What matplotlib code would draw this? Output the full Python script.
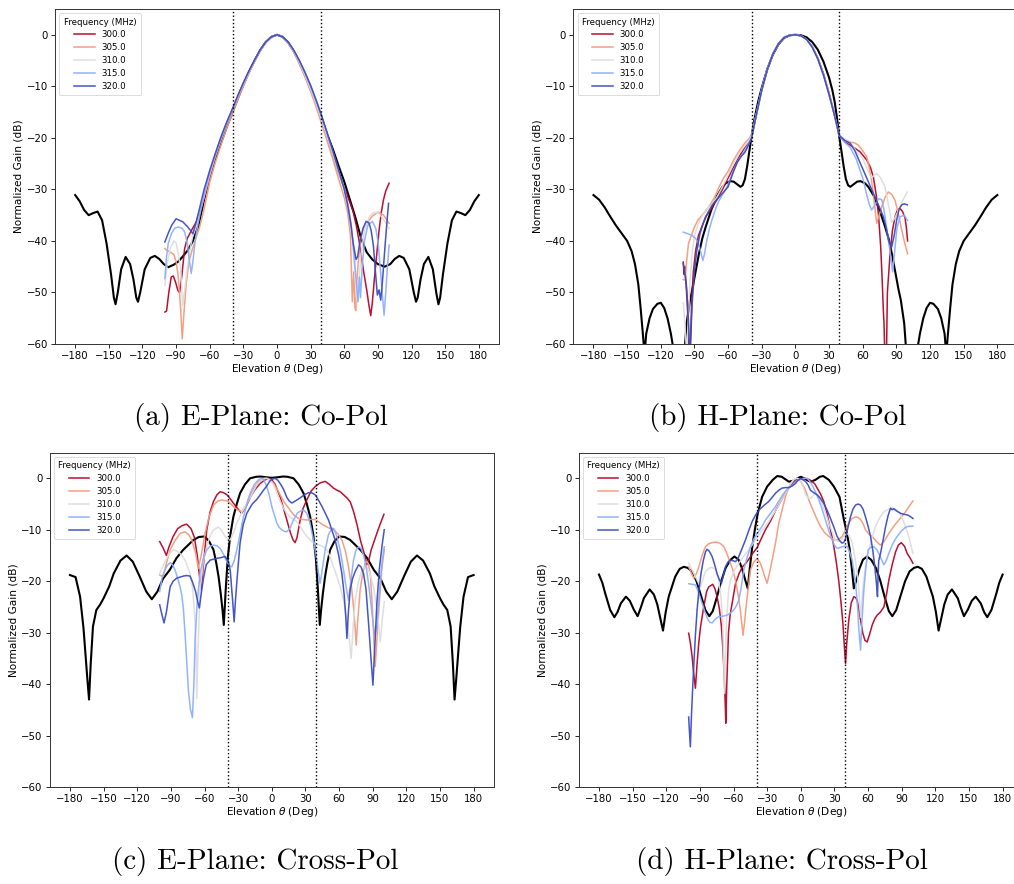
import matplotlib
matplotlib.use("Agg")
import matplotlib.pyplot as plt
import numpy as np

# ---------------------------------------------------------------- data
FREQS = ["300.0", "305.0", "310.0", "315.0", "320.0"]
CAPTIONS = ["(a) E-Plane: Co-Pol", "(b) H-Plane: Co-Pol",
            "(c) E-Plane: Cross-Pol", "(d) H-Plane: Cross-Pol"]
BEAM_EDGE = 39  # deg, dotted markers

# (a) E-plane co-pol -------------------------------------------------
A_SIM = [(-180, -31.1), (-176, -32.3), (-172, -34), (-168, -35), (-164, -34.6), (-160, -34.3),
         (-156, -36), (-152, -40.5), (-148, -46.5), (-145.5, -51), (-144, -52.3), (-142, -50),
         (-139, -45.5), (-135, -43.1), (-131, -44.5), (-128, -47.5), (-125.5, -51), (-124, -51.8),
         (-122, -50), (-118, -45.5), (-113, -43.3), (-109, -42.9), (-105, -43.5), (-101, -44.5),
         (-97, -45.1), (-92, -44.6), (-88, -44), (-84, -43), (-79.5, -41.8), (-75, -40),
         (-70, -37), (-65, -32), (-60, -27.5), (-55, -24), (-50, -21), (-45, -18), (-40, -15.2),
         (-35, -12.4), (-30, -9.7), (-25, -7.2), (-20, -5), (-15, -3), (-10, -1.4), (-5, -0.4),
         (0, 0), (5, -0.4), (10, -1.5), (15, -3.2), (20, -5.3), (25, -7.8), (30, -10.5),
         (35, -13.3), (40, -16.3), (45, -19.5), (50, -22.3), (55, -25.5), (60, -28.5), (65, -32),
         (70, -35.5), (75, -39.5), (80, -42.2), (85, -43.6), (90, -44.5), (96, -45), (101, -44.5),
         (105, -43.5), (109, -42.9), (113, -43.3), (118, -45.5), (122, -50), (124, -51.8),
         (125.5, -51), (128, -47.5), (131, -44.5), (135, -43.1), (139, -45.5), (142, -50),
         (144, -52.3), (145.5, -51), (148, -46.5), (152, -40.5), (156, -36), (160, -34.3),
         (164, -34.6), (168, -35), (172, -34), (176, -32.3), (180, -31.1)]
A_300 = [(-100, -53.8), (-98.5, -53.6), (-96.5, -50), (-94.3, -47), (-92.5, -46.8), (-90.5, -48),
         (-88.4, -49.6), (-86.9, -50), (-85, -47), (-82.4, -41.5), (-80, -39.5), (-76.4, -38),
         (-72, -36.3), (-70.5, -35.3), (-66, -32.5), (-63, -30.2), (-60, -27.6), (-55, -23.8),
         (-50, -20.4), (-45, -17.4), (-40, -14.7), (-35, -12), (-30, -9.5), (-25, -7.2), (-20, -5),
         (-15, -3), (-10, -1.4), (-5, -0.4), (0, 0), (5, -0.4), (10, -1.5), (15, -3.2), (20, -5.4),
         (25, -7.9), (30, -10.6), (35, -13.6), (40, -16.9), (45, -20.3), (50, -23.6), (55, -26.8),
         (60, -29.7), (65, -32.5), (68, -34.4), (71, -37.3), (74, -41), (77, -45.6), (80, -49.5),
         (82, -52.5), (83.6, -54.5), (85, -52), (87, -47), (89, -42.5), (91, -38), (93, -34.5),
         (95, -32), (97, -30.3), (100, -28.8)]
A_305 = [(-100, -41.5), (-96, -42.1), (-92, -42.6), (-90, -44), (-88, -47), (-86, -53),
         (-84.5, -59), (-83, -54), (-81, -48.3), (-78.5, -44), (-76, -42), (-72, -39.3),
         (-69, -37.3), (-65, -33.8), (-60, -28.6), (-55, -24.8), (-50, -21.4), (-45, -18.2),
         (-40, -15.4), (-35, -12.6), (-30, -10), (-25, -7.5), (-20, -5.2), (-15, -3.1), (-10, -1.5),
         (-5, -0.4), (0, 0), (5, -0.4), (10, -1.6), (15, -3.4), (20, -5.7), (25, -8.2), (30, -11),
         (35, -14.1), (40, -17.4), (45, -20.8), (50, -24.3), (55, -28), (60, -31.6), (63, -34.5),
         (65.5, -39), (67.2, -51.8), (68.5, -46), (69.5, -53), (70.3, -53.5), (71.2, -48),
         (72.5, -44), (74.5, -40), (77, -37.5), (81, -36.3), (85, -35.2), (90, -34.4), (95, -35),
         (100, -36.6)]
A_310 = [(-100, -48.6), (-98, -44.5), (-95, -41.3), (-92, -40), (-90, -40.4), (-88, -42.5),
         (-86, -45.5), (-84, -52.5), (-82, -49), (-80, -45), (-77, -41), (-75, -38.8), (-70, -35.4),
         (-65, -31.4), (-60, -27.2), (-55, -23.5), (-50, -20.2), (-45, -17.3), (-40, -14.7),
         (-35, -12), (-30, -9.5), (-25, -7.2), (-20, -5), (-15, -3), (-10, -1.4), (-5, -0.4), (0, 0),
         (5, -0.4), (10, -1.5), (15, -3.2), (20, -5.3), (25, -7.8), (30, -10.5), (35, -13.5),
         (40, -16.7), (45, -20), (50, -23.4), (55, -26.8), (60, -30), (63, -33), (66, -37),
         (68, -42), (70, -48), (71.5, -52), (73, -48), (75, -42.5), (78, -38), (82, -35.5),
         (86, -34.5), (90, -34.5), (94, -35.5), (97, -36.5), (100, -37.6)]
A_315 = [(-100, -47.3), (-98.5, -43), (-97, -40.5), (-94, -38.5), (-91, -37.5), (-88, -37.3),
         (-85, -37.5), (-82.4, -38.2), (-80, -40.5), (-78, -44), (-76.5, -46.3), (-75, -44),
         (-73, -40), (-71, -37.3), (-68, -34), (-65, -31), (-60, -26.8), (-55, -23.3),
         (-50, -20.2), (-45, -17.2), (-40, -14.6), (-35, -11.9), (-30, -9.4), (-25, -7.1),
         (-20, -4.9), (-15, -3), (-10, -1.4), (-5, -0.4), (0, 0), (5, -0.4), (10, -1.5), (15, -3.1),
         (20, -5.1), (25, -7.4), (30, -10), (35, -12.9), (40, -16), (45, -19.4), (50, -22.9),
         (55, -26.4), (60, -29.8), (63, -32.5), (66, -36.5), (68, -41), (70, -46), (72.3, -51.8),
         (73.5, -47), (74.5, -51), (76, -45), (78, -40), (81, -37), (85, -36.2), (88, -37.5),
         (90, -40), (92, -45), (94, -50.5), (95.5, -54.4), (97, -50), (98.5, -45), (100, -40.8)]
A_320 = [(-100, -40.2), (-97, -38.5), (-94, -37), (-90, -35.7), (-87, -36), (-84, -36.3),
         (-80, -37.2), (-77, -38), (-75, -38.6), (-72, -36.3), (-69, -33.6), (-65, -30),
         (-60, -26.3), (-55, -23), (-50, -19.8), (-45, -17), (-40, -14.5), (-35, -11.8),
         (-30, -9.3), (-25, -7), (-20, -4.9), (-15, -2.9), (-10, -1.4), (-5, -0.4), (0, 0),
         (5, -0.4), (10, -1.4), (15, -3), (20, -5), (25, -7.3), (30, -9.8), (35, -12.7),
         (40, -15.8), (45, -19.2), (50, -22.6), (55, -26.3), (60, -30), (63, -33), (66, -37),
         (68, -40.5), (70.5, -43.6), (72, -43), (74, -40), (76.8, -37.5), (79.5, -36.2),
         (82, -36.5), (84, -38), (86, -41), (88, -46.5), (89.5, -50.5), (91, -49.5),
         (92.5, -51.5), (94, -48), (96, -42), (98, -36.5), (99.5, -32.7)]

# (b) H-plane co-pol -------------------------------------------------
B_SIM = [(-180, -31.1), (-175, -32), (-170, -33.5), (-165, -35.3), (-160, -37), (-155, -38.5),
         (-150, -40), (-146, -42), (-143, -44.5), (-140, -48.5), (-138, -53), (-136, -58),
         (-134.5, -62), (-133, -58), (-130, -55), (-127, -53.2), (-123, -52.2), (-120, -52),
         (-117, -53), (-114, -55), (-111, -58), (-108, -62), (-105, -70), (-102, -70), (-99, -62),
         (-97, -56), (-94, -51.5), (-92, -49.5), (-89, -46), (-86, -42.5), (-83, -39.5),
         (-80, -37.3), (-75, -34), (-70, -31.3), (-65, -29.5), (-62, -28.8), (-58, -28.4),
         (-55, -28.5), (-52, -29), (-49, -29.5), (-47, -29.2), (-45, -28), (-43, -25.5),
         (-41, -22.5), (-39, -19.6), (-37, -17), (-35, -14.8), (-33, -12.8), (-30, -10.3),
         (-25, -6.6), (-20, -3.8), (-15, -1.8), (-10, -0.6), (-5, -0.1), (0, 0), (5, -0.1),
         (10, -0.5), (15, -1.4), (20, -2.9), (25, -5.2), (30, -8.3), (33, -10.8), (35, -13),
         (37, -16), (39, -19.6), (41, -22.5), (43, -25.5), (45, -28), (47, -29.2), (49, -29.5),
         (52, -29), (55, -28.5), (58, -28.4), (62, -28.8), (65, -29.5), (70, -31.3), (75, -34),
         (80, -37.3), (83, -39.5), (86, -42.5), (89, -46), (92, -49.5), (94, -51.5), (97, -56),
         (99, -62), (102, -70), (105, -70), (108, -62), (111, -58), (114, -55), (117, -53),
         (120, -52), (123, -52.2), (127, -53.2), (130, -55), (133, -58), (134.5, -62), (136, -58),
         (138, -53), (140, -48.5), (143, -44.5), (146, -42), (150, -40), (155, -38.5), (160, -37),
         (165, -35.3), (170, -33.5), (175, -32), (180, -31.1)]
B_300 = [(-100, -44.1), (-99.2, -46.5), (-98.6, -45), (-98, -47), (-97, -50), (-96, -54),
         (-95, -60), (-94.3, -65), (-93.6, -60), (-92.5, -52), (-91, -46), (-89, -42),
         (-86.5, -39), (-83, -37), (-80, -35.3), (-75, -33.8), (-70, -32), (-65, -30),
         (-60, -27.8), (-55, -25.6), (-50, -23.6), (-45, -21.8), (-42, -21), (-39, -19.8),
         (-35, -15.8), (-30, -10.8), (-25, -6.8), (-20, -3.8), (-15, -1.8), (-10, -0.6),
         (-5, -0.1), (0, 0), (5, -0.2), (10, -0.9), (15, -2.3), (20, -4.5), (25, -7.5),
         (30, -11.3), (35, -15.5), (39, -19.5), (44, -20.8), (48.7, -21.4), (53, -22),
         (57.6, -22.7), (63.6, -24.3), (67, -25.8), (69.5, -27.6), (72, -31), (74, -34.7),
         (76, -41), (77, -45.7), (77.8, -50), (78.4, -53.5), (79, -56), (80, -65), (81, -65),
         (82, -50), (84.4, -42.5), (86.5, -38), (88.8, -35.3), (91, -34), (93.3, -33.7),
         (95.5, -34.3), (97.7, -35.5), (99, -37.5), (100, -40)]
B_305 = [(-100, -47.5), (-98.3, -47.6), (-97, -44), (-95.3, -40.5), (-92, -38.5), (-90, -37.3),
         (-87, -36), (-84, -35.2), (-80, -34.2), (-76, -33), (-72, -31.5), (-68, -29.5),
         (-64, -27.8), (-60, -26.5), (-55, -24.3), (-50, -22.5), (-45, -21), (-42, -20.3),
         (-39, -19.5), (-35, -15.5), (-30, -10.6), (-25, -6.6), (-20, -3.6), (-15, -1.6),
         (-10, -0.5), (-5, -0.1), (0, 0), (5, -0.2), (10, -0.9), (15, -2.3), (20, -4.6),
         (25, -7.7), (30, -11.5), (35, -15.7), (39, -19.5), (44, -20.6), (48.7, -20.8),
         (53, -21), (56, -21.4), (60, -22.5), (63.6, -23.7), (66, -26), (68, -28.5),
         (69.5, -30.8), (71, -34), (72.5, -36.6), (74, -35.5), (77, -33.4), (80, -31.5),
         (82.9, -30.5), (86, -31), (88.8, -32.1), (91, -34), (94.8, -37.9), (97, -40),
         (100, -42.5)]
B_310 = [(-100, -52), (-98.5, -56), (-97, -62), (-96, -58), (-94, -48), (-92, -42), (-90, -39),
         (-87, -37), (-84, -35.5), (-80, -34), (-75, -33), (-70, -31.5), (-65, -29.5),
         (-60, -27.2), (-55, -25), (-50, -23), (-45, -21.5), (-42, -20.7), (-39, -19.7),
         (-35, -15.6), (-30, -10.7), (-25, -6.7), (-20, -3.7), (-15, -1.7), (-10, -0.5),
         (-5, -0.1), (0, 0), (5, -0.2), (10, -0.9), (15, -2.4), (20, -4.7), (25, -7.8),
         (30, -11.6), (35, -15.8), (39, -19.5), (44, -20.2), (48.7, -20.8), (54, -22.5),
         (60, -24), (64, -26), (67.5, -27.8), (70, -27.3), (72.5, -26.9), (76, -27.8),
         (79.9, -29.5), (82.5, -32.5), (85.9, -36.4), (88.5, -35.6), (91, -34.5), (93.3, -33.4),
         (96, -32), (99.8, -30.5)]
B_315 = [(-100, -38.3), (-96, -38.6), (-92.3, -38.9), (-89, -39.5), (-86.4, -40.5), (-84, -42.5),
         (-82.5, -43.8), (-81, -42.5), (-79, -39.9), (-76.5, -37.5), (-74.5, -36), (-71.5, -34),
         (-68.6, -32.4), (-65, -31), (-62, -30), (-59, -28.5), (-55, -26.2), (-50, -24),
         (-45, -22.5), (-42, -21.3), (-39, -19.9), (-35, -15.7), (-30, -10.7), (-25, -6.7),
         (-20, -3.7), (-15, -1.7), (-10, -0.5), (-5, -0.1), (0, 0), (5, -0.2), (10, -0.9),
         (15, -2.4), (20, -4.7), (25, -7.8), (30, -11.6), (35, -15.8), (39, -19.6), (44, -20.9),
         (48.7, -21.8), (54, -24), (60.6, -28.2), (63.5, -31), (66, -33), (68, -34), (71, -33),
         (74, -31.8), (77, -32), (79, -34), (82, -38.5), (85, -43), (86.7, -46), (88.5, -42),
         (90.5, -37.5), (93.3, -35.3), (97, -35), (100, -36)]
B_320 = [(-100, -44.4), (-99, -45.5), (-98, -47), (-97, -49), (-96, -52.8), (-95, -57),
         (-94.3, -64), (-93.5, -60), (-92, -52), (-90, -46), (-88, -42), (-85, -38.5),
         (-82, -36.5), (-78, -34.5), (-74, -33), (-70, -32), (-66, -31), (-62, -30),
         (-60, -29.5), (-56, -27), (-52, -24.8), (-48, -23.5), (-45, -22.8), (-42, -21.5),
         (-39, -20), (-35, -15.7), (-30, -10.7), (-25, -6.7), (-20, -3.7), (-15, -1.7),
         (-10, -0.5), (-5, -0.1), (0, 0), (5, -0.2), (10, -0.9), (15, -2.4), (20, -4.7),
         (25, -7.8), (30, -11.6), (35, -15.8), (39, -19.5), (44, -20.5), (48.7, -21),
         (53, -22.5), (57, -24.5), (60.6, -26.3), (65, -28.5), (69.5, -30.8), (74, -33),
         (78.4, -35.3), (81, -37.5), (83.5, -40.2), (85.8, -41.2), (88, -39), (90.4, -35.8),
         (92.5, -33.8), (94.8, -33), (97, -32.8), (99.8, -33)]

# (c) E-plane cross-pol ----------------------------------------------
C_SIM = [(-180, -18.8), (-175, -19.2), (-171, -23), (-168, -29), (-166, -34.7), (-164.5, -39),
         (-163, -43), (-161.5, -36), (-159.5, -28.8), (-156.5, -25.6), (-153, -24.5),
         (-150, -23.3), (-145, -21), (-141, -18.5), (-135, -16), (-129.5, -15), (-124, -16.2),
         (-118, -19), (-112, -22), (-107, -23.5), (-102, -22), (-97, -19.5), (-91, -17.8),
         (-85, -15.5), (-79, -13.9), (-70, -12), (-65, -11.4), (-60, -11.3), (-56, -12.2),
         (-52, -13.9), (-49.5, -16.5), (-47.5, -19.1), (-45.5, -22.5), (-44, -25.5),
         (-42.8, -28.5), (-41.2, -22), (-39.3, -15.5), (-37, -11), (-34.3, -7.5), (-31, -4.8),
         (-28.3, -2.9), (-24, -1.2), (-19.4, 0), (-14, 0.3), (-10, 0.35), (-5, 0.2), (0, 0.1),
         (5, 0.2), (10, 0.35), (14, 0.3), (19.4, 0), (24, -1.2), (28.3, -2.9), (31, -4.8),
         (34.3, -7.5), (37, -11), (39.3, -15.5), (41.2, -22), (42.8, -28.5), (44, -25.5),
         (45.5, -22.5), (47.5, -19.1), (49.5, -16.5), (52, -13.9), (56, -12.2), (60, -11.3),
         (65, -11.4), (70, -12), (79, -13.9), (85, -15.5), (91, -17.8), (97, -19.5), (102, -22),
         (107, -23.5), (112, -22), (118, -19), (124, -16.2), (129.5, -15), (135, -16),
         (141, -18.5), (145, -21), (150, -23.3), (153, -24.5), (156.5, -25.6), (159.5, -28.8),
         (161.5, -36), (163, -43), (164.5, -39), (166, -34.7), (168, -29), (171, -23),
         (175, -19.2), (180, -18.8)]
C_300 = [(-100, -12.3), (-97, -13.5), (-94, -15), (-92, -13.5), (-88, -11.3), (-84, -9.8),
         (-80, -9.2), (-76, -8.9), (-72, -9.8), (-69, -11.5), (-66.5, -15), (-64, -20),
         (-63, -21.7), (-61.5, -18), (-58, -10), (-55, -6.5), (-52, -4.5), (-49, -3.2),
         (-46, -2.6), (-43, -2.8), (-40, -3.2), (-37, -4), (-34, -4.9), (-30, -6), (-27, -6.8),
         (-23, -5.5), (-19, -3.6), (-15, -2.2), (-10.4, -1), (-6, -0.3), (-3, 0), (0, -0.3),
         (3, -1.2), (7.4, -3.6), (10, -5.5), (13.4, -8.1), (16.5, -10.5), (19, -12),
         (20.8, -12.5), (22.5, -11.5), (25.3, -8.1), (28, -5.8), (31.2, -4.2), (35, -2.5),
         (38.7, -1.6), (43, -0.9), (47.6, -0.6), (51, -1.1), (55, -1.9), (58, -2.3), (61, -2.6),
         (64, -3.2), (67, -3.8), (70, -4.6), (73, -6.5), (76, -9), (79, -12), (82, -14.3),
         (84.8, -16.8), (86.5, -16), (88.5, -14), (90.7, -12.6), (94, -10.5), (97, -8.7),
         (100, -7)]
C_305 = [(-100, -18.8), (-97, -19.1), (-94, -16.5), (-90.7, -13.9), (-86, -12), (-81.8, -10.7),
         (-77.4, -10.4), (-74, -11), (-71.4, -12), (-68, -14.5), (-65.5, -17.5), (-63, -15),
         (-59.5, -10.7), (-56, -7.5), (-52, -5.2), (-48, -4.4), (-44.6, -4.2), (-40, -4.4),
         (-38.7, -4.5), (-34.2, -5.5), (-30, -6.2), (-26.8, -6.5), (-23, -5.3), (-20.8, -3.9),
         (-16, -2), (-11.9, -0.6), (-7, -0.1), (-4.5, 0), (-1.5, -0.4), (1.5, -1), (4.5, -2),
         (7.4, -3.2), (11, -4.6), (16.4, -6.2), (20, -7.2), (23.8, -7.8), (27.5, -8),
         (31.2, -8.1), (35, -8), (38.7, -8), (42, -8.5), (46.1, -9.1), (50.5, -9.6), (55, -10),
         (59, -10.8), (62.5, -12), (65.5, -14), (68.4, -17.2), (71, -21), (72.9, -25),
         (74.3, -29), (75.3, -32.4), (76.5, -28), (78.8, -21.7), (81, -18.5), (83.3, -16.5),
         (85, -16.2), (86.3, -16.8), (88, -19), (89.3, -23.7), (90.5, -29), (91.5, -34),
         (92.2, -36.6), (93, -34), (95.2, -26.2), (97, -21), (98.2, -17.5), (100.3, -13.9)]
C_310 = [(-100, -18.5), (-96, -16.5), (-92, -14.8), (-87.8, -13.9), (-84, -14.2), (-80.3, -14.9),
         (-76.5, -16.3), (-72.9, -18.5), (-70.5, -21.5), (-68.4, -28.2), (-67.5, -35),
         (-66.9, -42.8), (-66, -35), (-64, -21.7), (-61, -16), (-58, -13.3), (-55, -11.2),
         (-52, -10), (-47.6, -9.5), (-44.5, -10.2), (-41.7, -11.3), (-39, -11.9), (-37.2, -12),
         (-34, -10.5), (-31.2, -8.7), (-26.5, -6.5), (-22.3, -4.9), (-17.5, -3), (-13.4, -1.3),
         (-10, -0.5), (-7.4, 0), (-4.5, 0), (-1.5, -0.3), (1.5, -1.2), (4.5, -2.9), (7.4, -4.4),
         (10.4, -5.8), (13.4, -6.8), (16.4, -7.5), (19.3, -8), (22.3, -8.4), (25.3, -9.3),
         (28.3, -10.4), (32, -11.5), (35.7, -12.3), (39.5, -12.8), (43.1, -13), (46, -13.3),
         (49.1, -13.9), (52, -15.3), (55, -17.2), (58, -19), (61, -21.1), (64, -23.7),
         (67, -27.5), (69, -31), (70.8, -35), (72.5, -29), (74.4, -23.7), (77.4, -20),
         (80.3, -17.8), (82.5, -17.2), (84.8, -17.2), (87.5, -18.5), (90.7, -21.1), (93.5, -25),
         (95.5, -29), (96.7, -31.8), (98.5, -27.5), (100.3, -24)]
C_315 = [(-100, -22), (-98, -19.5), (-96.7, -18.5), (-93.5, -17), (-90.7, -16.4), (-88.5, -16.8),
         (-86.3, -17.8), (-84, -19.4), (-81.8, -21.1), (-80.3, -22.7), (-78.8, -25.5),
         (-77.4, -30.1), (-75.9, -35.5), (-74.4, -41.2), (-72.5, -45), (-70.8, -46.5),
         (-69.5, -40), (-68.4, -31.4), (-66.5, -24), (-64, -18.5), (-61, -15.5), (-58, -13.9),
         (-55, -13.2), (-52, -13), (-49, -13.1), (-46.1, -13.6), (-43, -14.8), (-40.2, -16.2),
         (-37.5, -17), (-35.7, -17.2), (-33.5, -16), (-31.2, -13.9), (-28, -10.5), (-25.3, -7.5),
         (-22, -4.9), (-19.3, -2.9), (-15.5, -1.2), (-11.9, -0.3), (-9, 0), (-7.4, -0.2),
         (-4.5, -1.6), (-2, -3.5), (0, -5.5), (2.5, -7.3), (4.5, -8.7), (6.5, -9.5), (8.9, -10),
         (11, -10.3), (13.4, -10.4), (16.5, -9.6), (19.3, -8.1), (23, -6.7), (26.8, -6.2),
         (29, -6.3), (31.2, -6.8), (34, -8.6), (37.2, -12), (39.5, -15), (41.7, -18.5),
         (43.1, -20.4), (44.5, -18.5), (47.6, -13.9), (50.5, -11), (53.6, -9.7), (55.5, -9.8),
         (58, -11.3), (61, -14), (64, -17.8), (66, -20.8), (68.4, -23.7), (70.5, -20),
         (72.9, -15.9), (75, -14), (77.4, -13.3), (79.5, -13.6), (81.8, -14.9), (84, -17),
         (86.3, -20.5), (88.5, -24.5), (90.7, -28.8), (92.2, -30.5), (93.7, -28.5),
         (95.5, -23.5), (96.7, -20), (98.5, -16), (100.3, -13.3)]
C_320 = [(-100, -24.6), (-98, -26.5), (-96.1, -28.1), (-94, -26), (-92, -23), (-90.7, -21.1),
         (-88, -20), (-84.8, -19.4), (-81.8, -19.2), (-78.8, -19), (-76, -18.9), (-72.9, -19),
         (-70.5, -20.3), (-68, -22), (-66, -24), (-64.6, -25.2), (-63, -22.5), (-61, -19.5),
         (-58.5, -16.8), (-55, -15.9), (-50, -15.6), (-45, -15.4), (-41.7, -15.2),
         (-38.7, -16.2), (-37, -18), (-35.7, -21.7), (-34.5, -25), (-33.6, -27.9), (-32.5, -24),
         (-30.6, -18.5), (-28.3, -12.6), (-25.5, -9), (-22.3, -6.8), (-17.5, -5),
         (-13.4, -4.1), (-10, -3.1), (-7.4, -2.3), (-4.5, -1.5), (-2, -0.6), (0, -0.2), (3, 0),
         (5.5, -0.4), (8, -1.2), (10.4, -2.1), (13.4, -3.7), (15.5, -4.4), (17.9, -4.8),
         (21, -4.4), (25.3, -3.8), (29, -3.2), (32.7, -2.8), (35.5, -2.8), (38.7, -3.2),
         (41.5, -4.2), (44.6, -5.4), (47.5, -6.7), (50.6, -8.1), (53.5, -10), (56.5, -12),
         (59.5, -14.8), (62.5, -18.5), (64.5, -22.5), (66, -27), (67, -31.1), (68.3, -26),
         (69.9, -21.7), (72, -19.5), (74.4, -18.1), (77.4, -16.8), (79.5, -17.2), (81.8, -18.5),
         (84, -21.5), (86.3, -28.2), (88.3, -34.5), (90.2, -40.2), (91.8, -33), (93.7, -24.3),
         (96, -17.5), (98.2, -13.3), (100.3, -10)]

# (d) H-plane cross-pol ----------------------------------------------
D_SIM = [(-180, -18.7), (-177, -20.3), (-174.4, -22.4), (-170, -25.6), (-166.3, -27),
         (-163.5, -26), (-160.5, -24.3), (-156, -23), (-152.5, -23.8), (-149, -25.5),
         (-145.5, -26.8), (-142.5, -25), (-140, -23.3), (-134.8, -21.6), (-131, -22.6),
         (-128, -24.5), (-125, -27.5), (-122.9, -29.6), (-120.5, -26), (-117.8, -23),
         (-112, -19.1), (-108, -17.6), (-104.4, -17.2), (-101, -17.4), (-97, -18.1), (-93, -20),
         (-89.6, -22.4), (-85.1, -25.6), (-81.6, -26.8), (-78.5, -25.8), (-74.7, -23),
         (-71, -20), (-67.2, -17.5), (-63, -15.9), (-59.2, -15.2), (-55.5, -15.8), (-52.4, -17.5),
         (-49.5, -19.8), (-47.3, -21.4), (-45.5, -17.5), (-43.4, -13.5), (-41, -10),
         (-38.4, -6.8), (-34.5, -3.6), (-30, -1.6), (-25, -0.3), (-21, 0.45), (-17, 0.3),
         (-13, -0.3), (-10.7, -0.65), (-7, -0.5), (-3, 0), (0, 0.3), (3, 0), (7, -0.5),
         (9, -0.65), (13, -0.3), (17, 0.3), (20, 0.45), (25, -0.3), (29.5, -1.6), (34.5, -3.6),
         (38.4, -8), (41, -10.5), (43.4, -13.5), (45.5, -17.5), (47.3, -21.4), (49.5, -19.8),
         (52.4, -17.5), (55.5, -15.8), (59.2, -15.2), (63, -15.9), (67.2, -17.5), (71, -20),
         (74.7, -23), (78.5, -25.8), (81.6, -26.8), (85.1, -25.6), (89.6, -22.4), (93, -20),
         (97, -18.1), (101, -17.4), (104.4, -17.2), (108, -17.6), (112, -19.1), (117.8, -23),
         (120.5, -26), (122.9, -29.6), (125, -27.5), (128, -24.5), (131, -22.6), (134.8, -21.6),
         (140, -23.3), (142.5, -25), (145.5, -26.8), (149, -25.5), (152.5, -23.8), (156, -23),
         (160.5, -24.3), (163.5, -26), (166.3, -27), (170, -25.6), (174.4, -22.4),
         (177, -20.3), (180, -18.7)]
D_300 = [(-100, -30.1), (-98.5, -32), (-96.9, -34.7), (-95.5, -38), (-94, -40.8), (-92.5, -36),
         (-91, -32), (-89.5, -29), (-86.6, -25), (-84, -22), (-82.1, -21.1), (-78.5, -20.6),
         (-76.5, -21.5), (-74.7, -23), (-72.5, -25.5), (-70.8, -28.8), (-69.5, -33),
         (-68.4, -37.9), (-67.5, -43), (-66.9, -47.6), (-66, -40), (-64.5, -30), (-63, -26.5),
         (-61, -24), (-58.3, -20.5), (-55, -18.5), (-52, -17.2), (-49, -16.5), (-46, -15.6),
         (-43, -14.6), (-39, -13.5), (-35, -11.6), (-31.5, -10), (-27, -8.3), (-22.6, -6.3),
         (-18, -4.5), (-13.7, -2.8), (-10, -1.6), (-7, -0.9), (-4, -0.4), (0, -0.2), (3, 0),
         (5.7, -0.1), (8, -0.3), (10.1, -0.6), (12.5, -1.1), (14.6, -1.9), (17.5, -3),
         (20.5, -4.5), (22.8, -6.3), (25, -8.5), (27.3, -10.8), (29.5, -13.3), (31.8, -16.5),
         (33.9, -20), (35.8, -24), (37.5, -28), (38.8, -32.5), (39.9, -36), (41, -32),
         (42.8, -27.5), (45, -24.2), (47.3, -23), (49, -23.2), (50.3, -23.7), (52.5, -26.5),
         (55.3, -30.1), (57.2, -31.5), (59.2, -31.8), (61.5, -30.2), (63.7, -28.5), (66, -27.3),
         (68.1, -26.6), (71, -26), (74.1, -25), (76.5, -22.5), (78.5, -19.8), (81.5, -16.8),
         (84.5, -14.3), (87, -13), (89.6, -12.5), (92.5, -13.2), (94.9, -14.6), (97.5, -15.5),
         (100, -16.5)]
D_305 = [(-100, -17.2), (-97.5, -18.5), (-95.5, -19.4), (-93, -18.5), (-91, -17.2), (-88, -15),
         (-85.1, -13.3), (-82, -12.7), (-79.1, -12.5), (-76, -12.4), (-73.2, -12.5),
         (-71, -12.8), (-68.7, -13.3), (-66.5, -14.3), (-64.3, -15.6), (-61, -17.5),
         (-58.3, -19.8), (-56, -22.5), (-53.9, -25.6), (-52.5, -28.5), (-51.5, -30.5),
         (-50.2, -28), (-48.8, -25), (-47, -21.5), (-44.9, -17.8), (-42, -16.3), (-39, -15.6),
         (-36.5, -16.3), (-34.5, -17.5), (-32, -19.2), (-30.1, -20.4), (-28, -18.5),
         (-25.6, -15.9), (-22.5, -12.5), (-19.6, -8.7), (-16.5, -6), (-13.7, -3.6),
         (-11.5, -2.2), (-9.2, -1), (-6.2, -0.3), (-4, 0), (-1.8, -0.1), (0.5, -0.8),
         (2.7, -1.6), (5, -2.8), (7.1, -4.2), (9.5, -5.5), (11.6, -6.5), (14.5, -8),
         (17.6, -9.4), (21, -10.5), (25, -11.3), (28, -11.8), (30.9, -12), (33.5, -11.9),
         (36.9, -11.3), (40, -10), (42.8, -8.7), (45.8, -7.8), (48.8, -7.5), (51, -7.6),
         (53.3, -8), (55.5, -8.8), (57.7, -10), (60.5, -10.8), (63.7, -11.3), (67.5, -12.3),
         (71.1, -13), (74.5, -12.2), (78.5, -10.7), (83, -9.3), (87.5, -8.1), (90.5, -7.3),
         (93.4, -6.5), (96.5, -5.5), (100, -4.4)]
D_310 = [(-100, -16.5), (-97.5, -17.6), (-95.5, -18.5), (-92.5, -19.8), (-89.6, -21.1),
         (-87.5, -19.8), (-85.1, -18.1), (-82, -17.5), (-79.1, -17.3), (-76, -17.8),
         (-73.2, -19.8), (-71, -23.5), (-69.6, -28.2), (-68.8, -35), (-68.1, -41.8),
         (-67.3, -35), (-66.3, -28), (-64.5, -22), (-62.8, -19.8), (-59, -17.8), (-55.3, -16.5),
         (-51, -15.2), (-46.4, -13.9), (-42, -12.5), (-37.5, -11), (-33, -9.7), (-28.6, -8.4),
         (-25, -7.1), (-21.1, -5.8), (-17.5, -4.3), (-13.7, -2.9), (-10.5, -1.6), (-7.7, -0.6),
         (-5.5, -0.1), (-3.3, 0), (-1.5, -0.2), (0, -0.5), (2, -1.6), (4.2, -3.2), (6.5, -3.8),
         (8.6, -3.9), (11, -3.4), (13.1, -2.9), (16, -3.6), (19, -4.9), (22, -6.7), (25, -8.7),
         (28, -10.4), (30.9, -12), (33.5, -12.3), (36.9, -11.8), (39.9, -10.5), (42.8, -11),
         (45.8, -12.5), (48, -15), (50.3, -18.5), (52, -22.5), (53.3, -27), (54.5, -24),
         (56.2, -19.5), (58.5, -16), (60.7, -13.9), (63.5, -11.5), (66.6, -9.4), (70, -7.8),
         (74.1, -6.5), (78, -6), (81.5, -5.8), (84.5, -6), (87.5, -6.5), (90.5, -7.8),
         (93.4, -9.4), (96.5, -11.5), (100, -14.6)]
D_315 = [(-100, -20.5), (-97, -20.6), (-94, -20.7), (-91, -22.3), (-88, -24.3), (-85.5, -26),
         (-82.7, -27.5), (-81, -28), (-79.1, -28.1), (-76, -27.3), (-73.2, -26.9),
         (-69.5, -26.8), (-65.8, -26.6), (-62.8, -26.2), (-59.8, -25.6), (-57.5, -24.8),
         (-55.3, -23.7), (-53, -21), (-50.9, -17.8), (-48, -15.5), (-44.9, -13.3),
         (-42, -11.9), (-39, -10.7), (-35, -9.5), (-31.5, -8.1), (-27, -6.8), (-22.6, -5.5),
         (-19, -4.2), (-15.2, -2.9), (-11.5, -2), (-7.7, -1.3), (-4, -0.5), (0, -0.1), (2.8, 0),
         (5.7, 0), (8, -0.6), (10.1, -1.3), (13, -2.6), (16.1, -4.2), (19, -6), (22, -8.1),
         (25, -10.2), (28, -12), (30, -13), (32.4, -13.6), (34.5, -13.5), (36.9, -13.3),
         (39, -13.2), (41.4, -13.2), (43.5, -14.3), (45.8, -15.9), (47.7, -18.5), (49.4, -21.7),
         (50.8, -25.5), (51.8, -29.5), (53.3, -33.4), (54.5, -28), (56.2, -21.7), (58.2, -17),
         (60.1, -13.9), (62.5, -13.4), (65.2, -13.3), (67.5, -13.8), (69.6, -14.6), (72, -15.8),
         (74.1, -16.8), (76.2, -16), (78.5, -14.6), (82, -12.7), (85.9, -11.3), (89.5, -10.3),
         (93.4, -9.5), (96.5, -9.3), (100, -9.3)]
D_320 = [(-100, -46.4), (-99.5, -48.5), (-98.5, -52.2), (-97.5, -46), (-96.5, -41),
         (-95.5, -36.6), (-94, -30.5), (-92.5, -25.6), (-91, -22), (-89, -18.5), (-87, -16),
         (-85, -14.3), (-83.6, -13.8), (-81.5, -14.2), (-79.1, -15.2), (-76.8, -16.8),
         (-74.7, -18.5), (-72.5, -19.8), (-70.8, -20.4), (-69, -18.8), (-67.2, -17.2),
         (-65, -16.3), (-62.8, -15.9), (-60.5, -16), (-58.3, -16.2), (-56.5, -15.8),
         (-55.3, -15.2), (-52.5, -13.7), (-49.4, -12), (-46.5, -10.2), (-43.4, -8.4),
         (-40.5, -7.2), (-37.5, -6.2), (-33, -5.3), (-28.6, -4.5), (-25.5, -3.7), (-22.6, -2.9),
         (-19.5, -2.3), (-16.7, -1.9), (-13.5, -1.8), (-10.7, -1.8), (-7.8, -1.5), (-4.8, -1),
         (-2.5, -0.4), (0, 0), (2, -0.3), (4.2, -0.6), (6.5, -1.3), (8.6, -2.3), (11.5, -2.8),
         (14.6, -3.2), (17.5, -3.9), (20.5, -4.9), (23.5, -6.2), (26.5, -7.8), (29.5, -9.5),
         (32.4, -11.3), (34.5, -12.1), (36.9, -12.6), (38.5, -12.4), (39.9, -11.7), (42, -9.6),
         (44.3, -7.5), (46.5, -6), (48.8, -5.2), (51, -5), (53.3, -5.2), (55.5, -6), (57.7, -7.5),
         (60, -9.3), (62.2, -11.3), (64.2, -14), (66, -17.2), (67.5, -20.5), (68.4, -23),
         (68.9, -19), (69.5, -16), (71.1, -14.6), (73.4, -12), (75.6, -9.4), (77.8, -7.3),
         (80, -5.8), (81.5, -6.1), (83, -5.9), (84.5, -6.2), (86.5, -6.5), (89, -6.8),
         (92, -7), (94.9, -7.1), (97.5, -7.4), (100, -7.8)]

PANELS = [
    (A_SIM, [A_300, A_305, A_310, A_315, A_320]),
    (B_SIM, [B_300, B_305, B_310, B_315, B_320]),
    (C_SIM, [C_300, C_305, C_310, C_315, C_320]),
    (D_SIM, [D_300, D_305, D_310, D_315, D_320]),
]

# ---------------------------------------------------------------- layout
W, H = 1014, 884
# axes boxes in pixels: left, top, right, bottom
BOXES = [(55, 9, 499, 344), (573.3, 9, 1017.5, 344),
         (49.8, 452.6, 493.8, 787), (578.8, 452.6, 1022.8, 787)]
CAPTION_POS = [(261, 418), (778, 418), (255, 862), (782, 862)]

fig = plt.figure(figsize=(W / 100, H / 100), dpi=100)
colors = plt.cm.coolwarm_r(np.linspace(0, 1, len(FREQS)))

for (sim, meas), (l, t, r, b), cap, (cx, cy) in zip(PANELS, BOXES, CAPTIONS, CAPTION_POS):
    ax = fig.add_axes([l / W, 1 - b / H, (r - l) / W, (b - t) / H])
    th, g = zip(*sim)
    ax.plot(th, g, color="black", lw=1.5, zorder=2)
    for curve, c, lab in zip(meas, colors, FREQS):
        th, g = zip(*curve)
        ax.plot(th, g, color=c, lw=1.1, alpha=0.95, label=lab, zorder=3)
    for xv in (-BEAM_EDGE, BEAM_EDGE):
        ax.axvline(xv, color="black", ls=":", lw=1.0, zorder=4)
    ax.set_xlim(-198, 198)
    ax.set_ylim(-60, 5)
    ax.set_xticks(np.arange(-180, 181, 30))
    ax.set_yticks(np.arange(-60, 1, 10))
    ax.tick_params(labelsize=7.3, length=2.6, width=0.6, pad=2.5)
    for s in ax.spines.values():
        s.set_linewidth(0.7)
        s.set_color("#333333")
    ax.set_xlabel(r"Elevation $\theta$ (Deg)", fontsize=7.6, labelpad=1)
    ax.set_ylabel("Normalized Gain (dB)", fontsize=7.6, labelpad=2)
    leg = ax.legend(title="Frequency (MHz)", loc="upper left", fontsize=6.2,
                    title_fontsize=6.2, handlelength=2.4, borderpad=0.5,
                    labelspacing=0.45, framealpha=0.8)
    leg.get_frame().set_linewidth(0.6)
    fig.text(cx / W, 1 - cy / H, cap, family="cmr10", fontsize=21,
             ha="center", va="center")

fig.savefig("out.png", dpi=100)
